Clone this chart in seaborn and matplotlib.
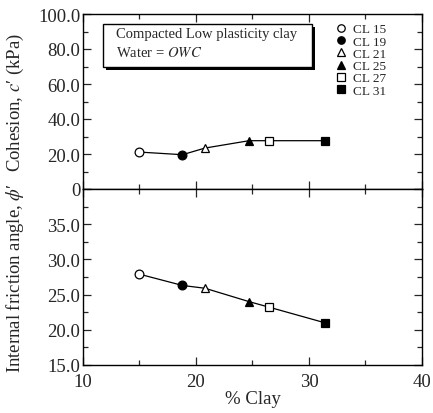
import matplotlib
matplotlib.use("Agg")
import matplotlib.pyplot as plt
import matplotlib.ticker as mticker
import seaborn as sns
import pandas as pd

samples = ['CL 15', 'CL 19', 'CL 21', 'CL 25', 'CL 27', 'CL 31']
clay = [15.0, 18.8, 20.8, 24.7, 26.5, 31.4]
cohesion = [21.1, 19.6, 23.4, 27.6, 27.6, 27.6]
friction = [27.9, 26.3, 25.9, 24.0, 23.2, 21.0]
markers = ['o', 'o', '^', '^', 's', 's']
filled = [False, True, False, True, False, True]

df = pd.DataFrame({'sample': samples, 'clay': clay, 'c': cohesion, 'phi': friction})

sns.set_style('ticks')
plt.rcParams['font.family'] = ['Liberation Serif', 'DejaVu Serif']
plt.rcParams['mathtext.fontset'] = 'stix'

fig = plt.figure(figsize=(4.33, 4.14), dpi=100)
ax1 = fig.add_axes([83/433, 1-190/414, 339/433, 175/414])
ax2 = fig.add_axes([83/433, 1-366/414, 339/433, 176/414])

for ax, col in [(ax1, 'c'), (ax2, 'phi')]:
    sns.lineplot(data=df, x='clay', y=col, ax=ax, color='black', lw=0.9, zorder=2)
    for i, row in df.iterrows():
        fc = 'black' if filled[i] else 'white'
        ax.plot(row['clay'], row[col], marker=markers[i], ms=6.3,
                mfc=fc, mec='black', mew=0.9, ls='none', zorder=3, label=row['sample'])
    ax.set_xlim(10, 40)
    ax.xaxis.set_major_locator(mticker.MultipleLocator(10))
    ax.xaxis.set_minor_locator(mticker.MultipleLocator(5))
    ax.tick_params(which='both', direction='in', top=True, right=True, labelsize=13.5,
                   width=0.9, pad=2)
    ax.tick_params(axis='x', which='major', pad=5.5)
    ax.tick_params(which='major', length=6)
    ax.tick_params(which='minor', length=3.5)
    for s in ax.spines.values():
        s.set_linewidth(1.0)
        s.set_color('black')

ax1.set_ylim(0, 100)
ax1.yaxis.set_major_locator(mticker.MultipleLocator(20))
ax1.yaxis.set_minor_locator(mticker.MultipleLocator(10))
ax1.yaxis.set_major_formatter(mticker.FuncFormatter(lambda v, p: '0' if v == 0 else f'{v:.1f}'))
ax1.set_xticklabels([])
ax1.set_xlabel('')
ax1.set_ylabel("Cohesion, $c$\u2032 (kPa)", fontsize=13.5)

ax2.set_ylim(15, 40)
ax2.yaxis.set_major_locator(mticker.MultipleLocator(5))
ax2.yaxis.set_minor_locator(mticker.MultipleLocator(2.5))
ax2.yaxis.set_major_formatter(mticker.FuncFormatter(lambda v, p: '' if v >= 40 else f'{v:.1f}'))
ax2.set_xlabel('% Clay', fontsize=13.5, labelpad=0)
ax2.set_ylabel("Internal friction angle, $\\phi$\u2032", fontsize=13.5)

for ax in (ax1, ax2):
    ax.yaxis.set_label_coords(-0.168, 0.5)

# note box with drop shadow
ax1.add_patch(plt.Rectangle((0.068, 0.68), 0.616, 0.246, transform=ax1.transAxes,
                            fc='black', ec='none', zorder=4))
ax1.add_patch(plt.Rectangle((0.059, 0.697), 0.616, 0.246, transform=ax1.transAxes,
                            fc='white', ec='black', lw=1.0, zorder=5))
ax1.text(0.097, 0.886, 'Compacted Low plasticity clay', transform=ax1.transAxes,
         fontsize=10.5, va='center', ha='left', zorder=6)
ax1.text(0.097, 0.783, 'Water = $\\mathit{OWC}$', transform=ax1.transAxes,
         fontsize=10.5, va='center', ha='left', zorder=6)

ax1.legend(loc='upper left', bbox_to_anchor=(0.71, 1.0), frameon=False, fontsize=9.5,
           handletextpad=0.3, labelspacing=0.0, borderaxespad=0.3, handlelength=1.2,
           markerscale=0.85)

fig.savefig('out.png', dpi=100)
